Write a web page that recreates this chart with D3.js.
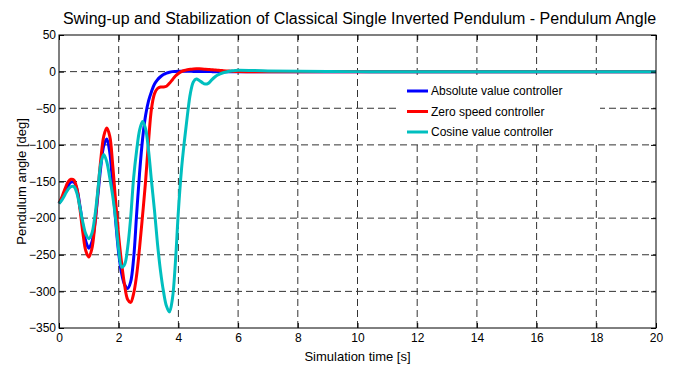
<!DOCTYPE html>
<html>
<head>
<meta charset="utf-8">
<script src="https://cdn.jsdelivr.net/npm/d3@7"></script>
<style>
  body { margin: 0; background: #fff; }
  svg { display: block; font-family: "Liberation Sans", Arial, sans-serif; }
</style>
</head>
<body>
<script>
// simulation time [s]
var time = [0, 0.1, 0.2, 0.3, 0.4, 0.5, 0.6, 0.7, 0.8, 0.9,
    1.0, 1.1, 1.2, 1.3, 1.4, 1.5, 1.6, 1.7, 1.8, 1.9,
    2.0, 2.1, 2.2, 2.3, 2.4, 2.5, 2.6, 2.7, 2.8, 2.9,
    3.0, 3.1, 3.2, 3.3, 3.4, 3.5, 3.6, 3.7, 3.8, 3.9,
    4.0, 4.1, 4.2, 4.3, 4.4, 4.5, 4.6, 4.7, 4.8, 4.9,
    5.0, 5.1, 5.2, 5.3, 5.4, 5.5, 5.6, 5.7, 5.8, 5.9,
    6.0, 7, 8, 9, 10, 11, 12, 13, 14, 15, 16, 17, 18, 19, 20];

// pendulum angle [deg] for each controller
var absoluteValue = [-180, -173, -164, -156, -151, -151, -160, -183, -210, -232,
    -241, -233, -208, -170, -130, -101, -92, -110, -155, -205,
    -248, -276, -291, -296, -287, -255, -195, -138, -92, -60,
    -40, -27, -17, -11, -7, -4, -2, -0.8, 0, 0.3,
    0.5, 0.5, 0.5, 0.4, 0.4, 0.3, 0.3, 0.2, 0.2, 0.1,
    0.1, 0, 0, 0, 0, 0, 0, 0, 0, 0,
    0, 0, 0, 0, 0, 0, 0, 0, 0, 0, 0, 0, 0, 0, 0];

var zeroSpeed = [-180, -171, -160, -151, -147, -148, -160, -187, -220, -245,
    -253, -242, -210, -165, -120, -88, -77, -88, -128, -178,
    -225, -262, -292, -311, -315, -303, -278, -240, -196, -150,
    -95, -50, -30, -23, -21, -21, -20, -16, -11, -6,
    -2.5, 0, 1.5, 2.5, 3.2, 3.6, 3.8, 3.8, 3.6, 3.3,
    3.0, 2.7, 2.3, 2.0, 1.6, 1.3, 1.0, 0.7, 0.4, 0.2,
    0, 0, 0, 0, 0, 0, 0, 0, 0, 0, 0, 0, 0, 0, 0];

var cosineValue = [-180, -175, -168, -161, -157, -157, -166, -185, -206, -222,
    -228, -221, -198, -163, -126, -113, -123, -145, -170, -202,
    -243, -267, -263, -240, -200, -145, -108, -80, -68, -78,
    -108, -150, -190, -235, -272, -300, -320, -328, -310, -260,
    -190, -135, -95, -60, -30, -14, -10, -12, -15, -17,
    -16, -12, -8, -5, -3, -1.5, -0.5, 0.5, 1.2, 1.6,
    1.8, 1.0, 0.5, 0.2, 0, 0, 0, 0, 0, 0, 0, 0, 0, 0, 0];

var xTicks = [0, 2, 4, 6, 8, 10, 12, 14, 16, 18, 20];
var yTicks = [50, 0, -50, -100, -150, -200, -250, -300, -350];

var seriesNames = ["Absolute value controller", "Zero speed controller", "Cosine value controller"];
var seriesColors = ["#0000ff", "#ff0000", "#00bfbf"];
var seriesValues = [absoluteValue, zeroSpeed, cosineValue];

var margin = { top: 35, right: 18, bottom: 37, left: 59 };
var width = 674 - margin.left - margin.right;
var height = 365 - margin.top - margin.bottom;

var x = d3.scaleLinear().domain([0, 20]).range([0, width]);
var y = d3.scaleLinear().domain([-350, 50]).range([height, 0]);

var svgRoot = d3.select("body").append("svg")
    .attr("width", 674)
    .attr("height", 365);

var svg = svgRoot.append("g")
    .attr("transform", "translate(" + margin.left + "," + margin.top + ")");

// title
svgRoot.append("text")
    .attr("x", margin.left + width / 2 + 2)
    .attr("y", 24)
    .attr("text-anchor", "middle")
    .style("font-size", "16px")
    .text("Swing-up and Stabilization of Classical Single Inverted Pendulum - Pendulum Angle");

// grid
svg.append("g").selectAll("line.vg")
    .data(xTicks.slice(1, -1))
    .enter().append("line")
    .attr("x1", d => x(d)).attr("x2", d => x(d))
    .attr("y1", 0).attr("y2", height)
    .attr("stroke", "#333").attr("stroke-width", 1)
    .attr("stroke-dasharray", "7,4");

svg.append("g").selectAll("line.hg")
    .data(yTicks.slice(1, -1))
    .enter().append("line")
    .attr("y1", d => y(d)).attr("y2", d => y(d))
    .attr("x1", 0).attr("x2", width)
    .attr("stroke", "#333").attr("stroke-width", 1)
    .attr("stroke-dasharray", "7,4");

// legend background hides the grid
var legendX = 341, legendY = 43;
svg.append("rect")
    .attr("x", legendX).attr("y", legendY)
    .attr("width", 200).attr("height", 64)
    .attr("fill", "#fff");

// curves
var line = d3.line()
    .x((d, i) => x(time[i]))
    .y(d => y(d))
    .curve(d3.curveCatmullRom.alpha(0.5));

svg.append("g").selectAll("path")
    .data(seriesValues)
    .enter().append("path")
    .attr("d", d => line(d))
    .attr("fill", "none")
    .attr("stroke", (d, i) => seriesColors[i])
    .attr("stroke-width", 3)
    .attr("stroke-linejoin", "round");

// axes box
svg.append("rect")
    .attr("width", width).attr("height", height)
    .attr("fill", "none").attr("stroke", "#000").attr("stroke-width", 1);

svg.append("g")
    .attr("transform", "translate(0," + height + ")")
    .call(d3.axisBottom(x).tickValues(xTicks).tickSize(-5).tickPadding(5).tickFormat(d3.format("d")))
    .call(g => g.select(".domain").remove())
    .call(g => g.selectAll("text").style("font-size", "12px").attr("fill", "#000"));

svg.append("g")
    .call(d3.axisLeft(y).tickValues(yTicks).tickSize(-5).tickPadding(3).tickFormat(d3.format("d")))
    .call(g => g.select(".domain").remove())
    .call(g => g.selectAll("text").style("font-size", "12px").attr("fill", "#000"));

svg.append("g")
    .call(d3.axisTop(x).tickValues(xTicks).tickSize(-5).tickFormat(""))
    .call(g => g.select(".domain").remove());

svg.append("g")
    .attr("transform", "translate(" + width + ",0)")
    .call(d3.axisRight(y).tickValues(yTicks).tickSize(-5).tickFormat(""))
    .call(g => g.select(".domain").remove());

// axis labels
svgRoot.append("text")
    .attr("x", margin.left + width / 2)
    .attr("y", 361)
    .attr("text-anchor", "middle")
    .style("font-size", "13px")
    .text("Simulation time [s]");

svgRoot.append("text")
    .attr("transform", "translate(26," + (margin.top + height / 2) + ") rotate(-90)")
    .attr("text-anchor", "middle")
    .style("font-size", "13px")
    .text("Pendulum angle [deg]");

// legend
var legend = svg.append("g").attr("class", "legend")
    .selectAll("g")
    .data(seriesNames)
    .enter().append("g")
    .attr("transform", (d, i) => "translate(" + (legendX + 7) + "," + (legendY + 13 + i * 20.5) + ")");

legend.append("line")
    .attr("x1", 0).attr("x2", 21)
    .attr("stroke", (d, i) => seriesColors[i])
    .attr("stroke-width", 3);

legend.append("text")
    .attr("x", 24)
    .attr("dy", "0.35em")
    .style("font-size", "12px")
    .text(d => d);
</script>
</body>
</html>
